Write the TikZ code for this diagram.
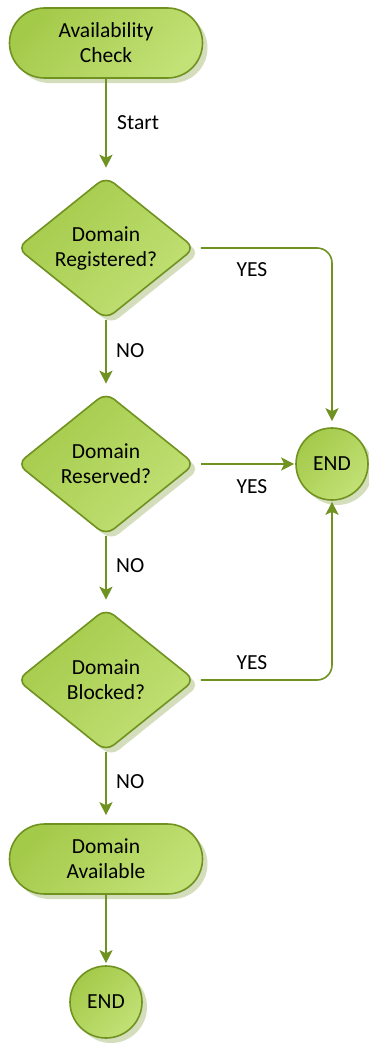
\documentclass[tikz,border=0pt]{standalone}
\usepackage{fontspec}
\setmainfont{Carlito}
\usetikzlibrary{shapes.geometric,shadows,arrows.meta}
\definecolor{bordc}{RGB}{112,146,32}
\definecolor{linec}{RGB}{112,146,32}
\definecolor{filla}{RGB}{164,202,74}
\definecolor{fillb}{RGB}{194,225,118}
\definecolor{shadc}{RGB}{212,222,188}
\begin{document}
\begin{tikzpicture}[x=1pt,y=-1pt,
  every node/.style={font=\fontsize{21.5}{25}\selectfont, text=black},
  shape base/.style={draw=bordc, line width=1.6pt, top color=filla, bottom color=fillb, shading angle=45,
    drop shadow={shadow xshift=5pt, shadow yshift=-5pt, fill=shadc, opacity=1}, align=center, inner sep=0pt},
  term/.style={shape base, rectangle, rounded corners=35pt, minimum width=193pt, minimum height=70pt},
  decision/.style={shape base, diamond, rounded corners=10pt, aspect=1.25, minimum width=178pt, minimum height=143pt},
  endc/.style={shape base, circle, minimum size=72pt},
  conn/.style={draw=linec, line width=1.6pt, -{Stealth[length=13pt,width=13pt,inset=3pt]}},
  lbl/.style={inner sep=0pt}
]
\useasboundingbox (0,0) rectangle (368,1044);
\node[term] (start) at (106,43) {Availability\\Check};
\node[decision] (d1) at (106,248) {Domain\\Registered?};
\node[decision] (d2) at (106,464) {Domain\\Reserved?};
\node[decision] (d3) at (106,680) {Domain\\Blocked?};
\node[term] (avail) at (106,859) {Domain\\Available};
\node[endc] (end2) at (106,1002) {END};
\node[endc] (endr) at (332,464) {END};

\draw[conn, shorten >=8pt] (start) -- (d1);
\draw[conn, shorten >=8pt] (d1) -- (d2);
\draw[conn, shorten >=8pt] (d2) -- (d3);
\draw[conn, shorten >=8pt] (d3) -- (avail);
\draw[conn, shorten >=2pt] (avail) -- (end2);
\draw[conn, rounded corners=15pt, shorten <=5pt, shorten >=6pt] (d1.east) -| (endr.north);
\draw[conn, shorten <=5pt, shorten >=1pt] (d2.east) -- (endr.west);
\draw[conn, rounded corners=15pt, shorten <=5pt, shorten >=1pt] (d3.east) -| (endr.south);

\node[lbl, anchor=west] (ls) at (117,123) {Start};
\node[lbl, anchor=west] (ln1) at (116,351) {NO};
\node[lbl, anchor=west] (ln2) at (116,566) {NO};
\node[lbl, anchor=west] (ln3) at (116,782) {NO};
\node[lbl] (ly1) at (252,270) {YES};
\node[lbl] (ly2) at (252,487) {YES};
\node[lbl] (ly3) at (252,663) {YES};
\end{tikzpicture}
\end{document}
